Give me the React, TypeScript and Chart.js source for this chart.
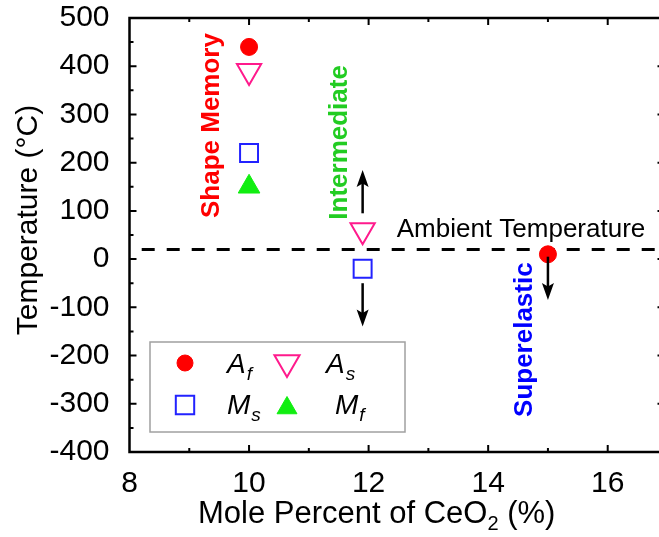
import { useEffect, useRef } from 'react';
import { Chart, registerables } from 'chart.js';

Chart.register(...registerables);

// Axis ranges and tick labels
const xRange = [8, 16.95];
const yRange = [-400, 500];
const xTicks = [8, 10, 12, 14, 16];
const yTicks = [-400, -300, -200, -100, 0, 100, 200, 300, 400, 500];

// Transformation temperatures (°C) vs. CeO2 content (mol %)
const afX = [10, 15];
const afY = [440, 10];
const asX = [10, 11.9];
const asY = [390, 60];
const msX = [10, 11.9];
const msY = [220, -20];
const mfX = [10];
const mfY = [150];

// Ambient temperature reference line
const ambientT = 20;
const ambientLabel = 'Ambient Temperature';

// Arrows: x position, start and end temperature
const arrowX = [11.9, 11.9, 15];
const arrowFrom = [95, -50, 5];
const arrowTo = [185, -140, -85];

// Phase regime labels
const phaseLabels = ['Shape Memory', 'Intermediate', 'Superelastic'];
const phaseColors = ['#ff0000', '#22cc22', '#0000ff'];

// Legend labels (main letter + subscript)
const legendMain = ['A', 'A', 'M', 'M'];
const legendSub = ['f', 's', 's', 'f'];

const FONT = "'Liberation Sans', Arial, sans-serif";

// Plot frame in canvas pixels
const frame = { left: 129.5, top: 18, right: 664.5, bottom: 452 };
const canvasW = 672;
const canvasH = 537;

// Layout of annotations (data coordinates for anchors)
const phaseAnchors = [
  { x: 9.5, y: 277 },
  { x: 11.64, y: 242 },
  { x: 14.73, y: -167 },
];
const ambientAnchor = { x: 12.47, y: 45 };

const legendBox = { left: 150, top: 342, right: 405, bottom: 432 };
const legendSlots = [
  { sx: 185, sy: 363, tx: 227, ty: 373 },
  { sx: 287, sy: 362.5, tx: 326, ty: 373 },
  { sx: 185, sy: 405, tx: 227, ty: 414 },
  { sx: 287, sy: 408, tx: 335, ty: 414 },
];

function toPoints(xs: number[], ys: number[]) {
  return xs.map((x, i) => ({ x, y: ys[i] }));
}

function drawMarker(
  ctx: CanvasRenderingContext2D,
  style: string,
  x: number,
  y: number,
  r: number,
  rotDeg: number,
  fill: string | null,
  stroke: string | null,
  lw: number
) {
  ctx.save();
  ctx.beginPath();
  if (style === 'circle') {
    ctx.arc(x, y, r, 0, Math.PI * 2);
  } else if (style === 'rect') {
    const s = r * Math.SQRT1_2;
    ctx.rect(x - s, y - s, 2 * s, 2 * s);
  } else {
    let a = (rotDeg * Math.PI) / 180;
    for (let i = 0; i < 3; i++) {
      const px = x + Math.sin(a) * r;
      const py = y - Math.cos(a) * r;
      if (i === 0) ctx.moveTo(px, py);
      else ctx.lineTo(px, py);
      a += (2 * Math.PI) / 3;
    }
    ctx.closePath();
  }
  if (fill) {
    ctx.fillStyle = fill;
    ctx.fill();
  }
  if (stroke && lw > 0) {
    ctx.strokeStyle = stroke;
    ctx.lineWidth = lw;
    ctx.stroke();
  }
  ctx.restore();
}

const zeroPad = (s: any) => {
  s.paddingTop = 0;
  s.paddingBottom = 0;
  s.paddingLeft = 0;
  s.paddingRight = 0;
};

const decorations = {
  id: 'decorations',
  afterDatasetsDraw(chart: any) {
    const { ctx, scales } = chart;
    const xs = scales.x;
    const ys = scales.y;
    ctx.save();
    // arrows
    ctx.strokeStyle = '#000';
    ctx.fillStyle = '#000';
    arrowX.forEach((ax, i) => {
      const px = xs.getPixelForValue(ax);
      const p0 = ys.getPixelForValue(arrowFrom[i]);
      const p1 = ys.getPixelForValue(arrowTo[i]);
      const dir = p1 > p0 ? 1 : -1;
      const headLen = 17;
      const headW = 6;
      ctx.lineWidth = 2.5;
      ctx.beginPath();
      ctx.moveTo(px, p0);
      ctx.lineTo(px, p1 - dir * headLen * 0.6);
      ctx.stroke();
      ctx.beginPath();
      ctx.moveTo(px, p1);
      ctx.lineTo(px - headW, p1 - dir * headLen);
      ctx.lineTo(px, p1 - dir * headLen * 0.8);
      ctx.lineTo(px + headW, p1 - dir * headLen);
      ctx.closePath();
      ctx.fill();
    });

    // phase labels (rotated)
    ctx.font = `bold 26px ${FONT}`;
    ctx.textAlign = 'center';
    ctx.textBaseline = 'alphabetic';
    phaseLabels.forEach((t, i) => {
      const px = xs.getPixelForValue(phaseAnchors[i].x);
      const py = ys.getPixelForValue(phaseAnchors[i].y);
      ctx.save();
      ctx.translate(px, py);
      ctx.rotate(-Math.PI / 2);
      ctx.fillStyle = phaseColors[i];
      ctx.fillText(t, 0, 0);
      ctx.restore();
    });

    // ambient label
    ctx.font = `26px ${FONT}`;
    ctx.textAlign = 'left';
    ctx.fillStyle = '#000';
    ctx.fillText(
      ambientLabel,
      xs.getPixelForValue(ambientAnchor.x),
      ys.getPixelForValue(ambientAnchor.y)
    );
    ctx.restore();
  },
  afterDraw(chart: any) {
    const { ctx, chartArea, scales } = chart;
    const { left, right, top, bottom } = chartArea;
    const xs = scales.x;
    const ys = scales.y;
    ctx.save();
    ctx.strokeStyle = '#000';
    ctx.lineWidth = 2.5;
    ctx.strokeRect(left, top, right - left, bottom - top);

    // inward major and minor ticks on all four sides
    const major = 7;
    const minor = 4;
    ctx.lineWidth = 2;
    ctx.beginPath();
    const xMinor = xTicks.slice(0, -1).map((v, i) => (v + xTicks[i + 1]) / 2);
    xMinor.push(xTicks[xTicks.length - 1] + (xTicks[1] - xTicks[0]) / 2);
    const yMinor = yTicks.slice(0, -1).map((v, i) => (v + yTicks[i + 1]) / 2);
    const xMarks = [
      ...xTicks.map((v) => [v, major]),
      ...xMinor.map((v) => [v, minor]),
    ];
    const yMarks = [
      ...yTicks.map((v) => [v, major]),
      ...yMinor.map((v) => [v, minor]),
    ];
    xMarks.forEach(([v, len]) => {
      if (v <= xRange[0] || v >= xRange[1]) return;
      const px = xs.getPixelForValue(v);
      ctx.moveTo(px, bottom);
      ctx.lineTo(px, bottom - len);
      ctx.moveTo(px, top);
      ctx.lineTo(px, top + len);
    });
    yMarks.forEach(([v, len]) => {
      if (v <= yRange[0] || v >= yRange[1]) return;
      const py = ys.getPixelForValue(v);
      ctx.moveTo(left, py);
      ctx.lineTo(left + len, py);
      ctx.moveTo(right, py);
      ctx.lineTo(right - len, py);
    });
    ctx.stroke();

    // axis titles
    ctx.fillStyle = '#000';
    ctx.textBaseline = 'alphabetic';
    ctx.font = `31px ${FONT}`;
    ctx.textAlign = 'left';
    let tx = 198;
    const ty = 523;
    const part1 = 'Mole Percent of CeO';
    ctx.fillText(part1, tx, ty);
    tx += ctx.measureText(part1).width;
    ctx.font = `20px ${FONT}`;
    ctx.fillText('2', tx, ty + 7);
    tx += ctx.measureText('2').width;
    ctx.font = `31px ${FONT}`;
    ctx.fillText(' (%)', tx, ty);

    ctx.save();
    ctx.translate(37, 220);
    ctx.rotate(-Math.PI / 2);
    ctx.font = `30px ${FONT}`;
    ctx.textAlign = 'center';
    ctx.fillText('Temperature (°C)', 0, 0);
    ctx.restore();

    // legend
    ctx.fillStyle = '#fff';
    ctx.fillRect(legendBox.left, legendBox.top, legendBox.right - legendBox.left, legendBox.bottom - legendBox.top);
    ctx.strokeStyle = '#a0a0a0';
    ctx.lineWidth = 1.5;
    ctx.strokeRect(legendBox.left, legendBox.top, legendBox.right - legendBox.left, legendBox.bottom - legendBox.top);

    const sets = chart.data.datasets.slice(0, 4);
    sets.forEach((ds: any, i: number) => {
      const s = legendSlots[i];
      const filled = ds.pointBackgroundColor !== 'rgba(0,0,0,0)';
      drawMarker(
        ctx,
        ds.pointStyle,
        s.sx,
        s.sy,
        ds.legendRadius,
        ds.pointRotation || 0,
        filled ? ds.pointBackgroundColor : null,
        ds.pointBorderColor,
        ds.pointBorderWidth
      );
      ctx.fillStyle = '#000';
      ctx.textAlign = 'left';
      ctx.font = `italic 28px ${FONT}`;
      ctx.fillText(legendMain[i], s.tx, s.ty);
      const w = ctx.measureText(legendMain[i]).width;
      ctx.font = `italic 19px ${FONT}`;
      ctx.fillText(legendSub[i], s.tx + w + 1, s.ty + 7);
    });
    ctx.restore();
  },
};

export default function App() {
  const ref = useRef<HTMLCanvasElement | null>(null);

  useEffect(() => {
    if (!ref.current) return;
    const chart = new Chart(ref.current, {
      type: 'scatter',
      data: {
        datasets: [
          {
            label: 'Af',
            data: toPoints(afX, afY),
            pointStyle: 'circle',
            pointRadius: 8.5,
            legendRadius: 8,
            pointBackgroundColor: '#ff0000',
            pointBorderColor: '#ff0000',
            pointBorderWidth: 1,
            order: 0,
          } as any,
          {
            label: 'As',
            data: toPoints(asX, asY),
            pointStyle: 'triangle',
            pointRotation: 180,
            pointRadius: 14,
            legendRadius: 14.5,
            pointBackgroundColor: 'rgba(0,0,0,0)',
            pointBorderColor: '#ff1a8c',
            pointBorderWidth: 2,
            order: 0,
          } as any,
          {
            label: 'Ms',
            data: toPoints(msX, msY),
            pointStyle: 'rect',
            pointRadius: 12.7,
            legendRadius: 13,
            pointBackgroundColor: 'rgba(0,0,0,0)',
            pointBorderColor: '#2222ff',
            pointBorderWidth: 2,
            order: 0,
          } as any,
          {
            label: 'Mf',
            data: toPoints(mfX, mfY),
            pointStyle: 'triangle',
            pointRadius: 12.5,
            legendRadius: 11.5,
            pointBackgroundColor: '#11ee11',
            pointBorderColor: '#11ee11',
            pointBorderWidth: 1,
            order: 0,
          } as any,
          {
            label: 'Ambient',
            data: toPoints([xRange[0], xRange[1]], [ambientT, ambientT]),
            showLine: true,
            borderColor: '#000',
            borderWidth: 3,
            borderDash: [13, 12],
            borderDashOffset: 12.8,
            pointRadius: 0,
            order: 1,
          } as any,
        ],
      },
      options: {
        responsive: false,
        animation: false,
        devicePixelRatio: 1,
        events: [],
        layout: {
          autoPadding: false,
          padding: {
            top: frame.top,
            right: canvasW - frame.right,
            left: 0,
            bottom: 0,
          },
        },
        plugins: {
          legend: { display: false },
          tooltip: { enabled: false },
          title: { display: false },
        },
        scales: {
          x: {
            type: 'linear',
            min: xRange[0],
            max: xRange[1],
            grid: { display: false },
            border: { display: false },
            afterBuildTicks: (s: any) => {
              s.ticks = xTicks.map((v) => ({ value: v }));
            },
            afterFit: (s: any) => {
              s.height = canvasH - frame.bottom;
              zeroPad(s);
            },
            ticks: {
              color: '#000',
              padding: 6,
              maxRotation: 0,
              font: { family: FONT, size: 30 },
              callback: (v: any) => String(v),
            },
          },
          y: {
            type: 'linear',
            min: yRange[0],
            max: yRange[1],
            grid: { display: false },
            border: { display: false },
            afterBuildTicks: (s: any) => {
              s.ticks = yTicks.map((v) => ({ value: v }));
            },
            afterFit: (s: any) => {
              s.width = frame.left;
              zeroPad(s);
            },
            ticks: {
              color: '#000',
              padding: 12,
              font: { family: FONT, size: 30 },
              callback: (v: any) => String(v),
            },
          },
        },
      },
      plugins: [decorations],
    });
    return () => chart.destroy();
  }, []);

  return (
    <canvas
      ref={ref}
      width={canvasW}
      height={canvasH}
      style={{ position: 'fixed', left: 0, top: 0 }}
    />
  );
}
